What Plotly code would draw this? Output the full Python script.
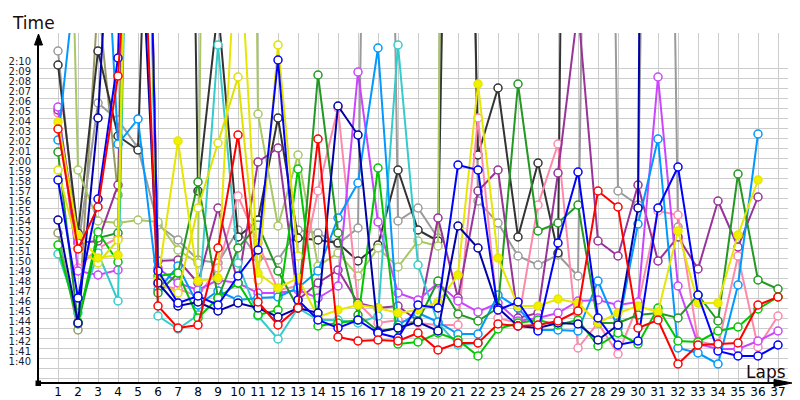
import plotly.graph_objects as go

laps = list(range(1, 38))
N = None

# lap times in seconds (values above ~133.5 s run off the top of the chart)
red = [123.9, 111.9, 116.1, 129.2, 160, 106.2, 104.0, 104.3, 112.0, 123.3, 106.6, 104.3, 106.0, 122.9, 103.1, 102.7, 102.8, 102.7, 103.5, 101.8, 102.5, 102.5, 104.4, 104.2, 104.3, 104.7, 105.7, 117.7, 116.1, 104.0, 104.8, 100.4, 102.3, 102.4, 102.5, 106.3, 107.1]
blue = [118.8, 107.0, 116.9, 131.0, 200, 109.7, 106.5, 107.2, 106.3, 109.2, 111.8, 130.8, 106.8, 104.8, 104.0, 104.8, 103.5, 103.0, 106.3, 106.0, 120.3, 119.8, 105.8, 106.6, 103.7, 112.5, 119.6, 105.0, 102.3, 102.7, 116.0, 120.1, 107.3, 101.7, 101.2, 101.2, 102.3]
navy = [114.8, 104.5, 125.0, 160, 150, 108.5, 106.2, 106.6, 105.7, 106.5, 106.0, 105.1, 106.0, 105.5, 126.2, 123.3, 103.6, 104.0, 104.6, 103.7, 114.2, 112.0, 106.0, 104.2, 104.0, 104.5, 104.4, 102.8, 104.3, 116.0, 400, N, N, N, N, N, N]
green = [112.3, 104.6, 113.6, 110.6, 200, 109.2, 109.5, 105.0, 107.0, 108.5, 105.3, 105.8, 119.9, 104.2, 104.5, 104.8, 120.0, 102.4, 102.6, 103.5, 102.8, 101.2, 103.9, 104.5, 104.8, 104.3, 104.8, 102.2, 103.5, 102.4, 106.0, 102.7, 102.6, 103.7, 104.1, 105.9, 107.1]
darkgreen = [121.6, 104.4, 113.0, 113.5, 200, 107.5, 109.5, 118.6, 107.0, 112.0, 114.3, 109.7, 106.0, 129.3, 113.5, 105.3, 103.7, 104.0, 104.7, 108.7, 105.4, 104.7, 106.0, 128.4, 113.7, 114.5, 116.3, 104.5, 104.5, 105.3, 105.5, 105.0, 107.3, 104.7, 119.4, 108.8, 107.9]
yellow = [124.6, 113.3, 111.0, 111.3, 200, 108.8, 122.7, 108.7, 109.0, 146, 109.5, 108.0, 109.0, 105.1, 105.8, 106.3, 106.0, 105.5, 105.8, 106.6, 109.3, 128.4, 111.0, 106.2, 106.2, 106.9, 106.5, 104.5, 105.5, 106.2, 105.6, 113.7, 106.5, 106.5, 113.3, 118.8, N]
paleyellow = [119.8, 112.0, 110.5, 112.8, 200, 108.5, 107.5, 116.0, 122.5, 129.1, 108.8, 132.3, 111.2] + [N] * 24
yellowgreen = [200, 119.8, 114.7, 114.5, 114.8, 114.6, 111.8, 110.5, 300, 300, 125.4, 114.2, 121.3, 110.2, 111.5, 109.2, 112.0, 110.1, 112.7, 112.2, 400] + [N] * 16
black = [130.3, 113.5, 131.7, 123.2, 121.8, 250, 250, 117.7, 136, 113.1, 114.8, 125.0, 113.0, 112.8, 112.5, 110.7, 112.3, 119.8, 113.8, 112.7, 220, 121.3, 128.0, 113.1, 120.5, 111.5, 300] + [N] * 10
gray = [131.7, 112.0, 126.5, 124.8, 122.0, 114.3, 112.8, 110.8, 110.5, 113.8, 111.0, 110.8, 113.8, 113.5, 112.4, 114.0, 250, 114.7, 116.0, 113.0, 250, 116.7, 114.5, 111.2, 110.3, 111.3, 109.2, 250, 117.7, 116.3, 250, 114.1] + [N] * 5
turquoise = [111.4, 105.5, 111.5, 106.7, 200, 105.2, 103.9, 105.3, 132.3, 110.5, 105.2, 102.9, 106.0, 104.8, 104.8, 104.5, 105.2, 132.3, 110.3, 104.5, 102.3, 102.5] + [N] * 15
dodger = [122.8, 142, 160, 122.4, 124.9, 107.8, 110.2, 106.3, 107.7, 106.8, 107.0, 107.1, 108.0, 109.7, 115.0, 118.5, 132.0, 104.3, 105.5, 104.6, 103.4, 103.4, 107.3, 106.0, 103.8, 103.8, 103.7, 108.7, 104.0, 114.4, 122.9, 102.0, 101.5, 100.4, 108.3, 123.4, N]
pink = [125.5, 110.0, 112.0, 113.0, 200, 108.3, 107.9, 107.2, 110.0, 117.2, 112.5, 107.8, 108.2, 117.7, 126.0, 106.5, 104.5, 104.8, 104.5, 104.3, 104.3, 125.0, 105.0, 104.5, 116.3, 122.4, 102.0, 104.5, 101.4, 106.3, 115.7, 115.3, 102.7, 102.2, 111.2, 102.1, 105.2]
violet = [126.1, 109.7, 109.3, 109.8, 200, 110.0, 108.5, 107.8, 108.8, 108.5, 107.5, 107.5, 107.8, 107.0, 108.2, 129.6, 114.6, 107.5, 106.8, 108.5, 106.7, 105.6, 106.5, 104.7, 105.0, 105.5, 106.7, 106.8, 106.3, 106.6, 129.1, 108.2, 102.4, 101.9, 101.9, 102.7, 103.7]
purple = [125.8, 112.5, 112.7, 118.3, 200, 110.7, 110.8, 108.5, 116.0, 108.5, 120.6, 122.0, 106.8, 108.5, 109.8, 106.5, 106.0, 106.2, 104.7, 115.0, 107.0, 117.7, 119.8, 105.0, 105.5, 119.5, 136, 112.7, 111.2, 118.3, 110.7, 113.1, 109.9, 116.7, 112.1, 117.1, N]
olive = [113.5, 103.8, 137, 117.3] + [N] * 33

series = [
    ("Olive", olive, "#999966", "white"),
    ("Gray", gray, "#9a9a9a", "white"),
    ("Black", black, "#333333", "white"),
    ("Yellow-green", yellowgreen, "#a8c864", "white"),
    ("Pink", pink, "#ff88aa", "white"),
    ("Purple", purple, "#993399", "white"),
    ("Violet", violet, "#cc44ff", "white"),
    ("Turquoise", turquoise, "#33cccc", "white"),
    ("Dodger", dodger, "#0099ff", "white"),
    ("Dark green", darkgreen, "#229922", "white"),
    ("Green", green, "#00c800", "white"),
    ("Pale yellow", paleyellow, "#e0e000", "white"),
    ("Yellow", yellow, "#e6e600", "#f0f000"),
    ("Navy", navy, "#0000a8", "white"),
    ("Blue", blue, "#0000ff", "white"),
    ("Red", red, "#ff0000", "white"),
]

fig = go.Figure()
for name, vals, col, fill in series:
    fig.add_trace(go.Scatter(
        x=laps, y=vals, mode="lines+markers", name=name,
        line=dict(color=col, width=2),
        marker=dict(symbol="circle", size=8, color=fill, line=dict(color=col, width=1.5)),
        connectgaps=False, showlegend=False,
    ))

ytick_vals = list(range(99, 131))
ytick_text = ["" if v < 100 else f"{v // 60}:{v % 60:02d}" for v in ytick_vals]

W, H = 800, 400
L, R, T, B = 30, 20, 25, 25
pw, ph = W - L - R, H - T - B

def px(x):
    return (x - L) / pw

def py(y):
    return (H - B - y) / ph

fig.update_layout(
    width=W, height=H,
    margin=dict(l=L, r=R, t=T, b=B, autoexpand=False),
    plot_bgcolor="white", paper_bgcolor="white",
    font=dict(family="DejaVu Sans", color="#111111"),
    xaxis=dict(range=[0, 37.5], tickvals=laps, ticktext=[str(v) for v in laps],
               showgrid=True, gridcolor="#cccccc", gridwidth=1, zeroline=False,
               showline=False, ticks="", tickfont=dict(size=12, color="#000000"),
               ticklabelstandoff=0, automargin=False, fixedrange=True),
    yaxis=dict(range=[98.5, 133.5], tickvals=ytick_vals, ticktext=ytick_text,
               showgrid=True, gridcolor="#cccccc", gridwidth=1, zeroline=False,
               showline=False, ticks="", ticklabelposition="outside top",
               tickfont=dict(size=10, color="#1a1a30"), ticklabelstandoff=6,
               automargin=False, fixedrange=True),
    shapes=[
        dict(type="line", xref="paper", yref="paper", x0=px(30), x1=px(30), y0=py(375), y1=py(34),
             line=dict(color="black", width=2)),
        dict(type="line", xref="paper", yref="paper", x0=px(30), x1=px(770), y0=py(375), y1=py(375),
             line=dict(color="black", width=2)),
        dict(type="path", xref="paper", yref="paper",
             path=f"M {px(30.5)},{py(26)} L {px(26.5)},{py(37)} L {px(34.5)},{py(37)} Z",
             fillcolor="black", line=dict(color="black", width=1)),
        dict(type="path", xref="paper", yref="paper",
             path=f"M {px(784)},{py(375)} L {px(766)},{py(371.5)} L {px(766)},{py(378.5)} Z",
             fillcolor="black", line=dict(color="black", width=1)),
        dict(type="rect", xref="paper", yref="paper", x0=px(27.5), x1=px(33), y0=py(372.5), y1=py(378),
             fillcolor="black", line=dict(color="black", width=0)),
    ],
    annotations=[
        dict(text="Time", xref="paper", yref="paper", x=px(25), y=py(15), showarrow=False,
             xanchor="center", yanchor="middle",
             font=dict(size=17, color="#1a0a0a", family="DejaVu Sans")),
        dict(text="Laps", xref="paper", yref="paper", x=px(758), y=py(364), showarrow=False,
             xanchor="center", yanchor="middle",
             font=dict(size=17, color="#1a0a0a", family="DejaVu Sans")),
    ],
)

fig.write_html("out.html")
